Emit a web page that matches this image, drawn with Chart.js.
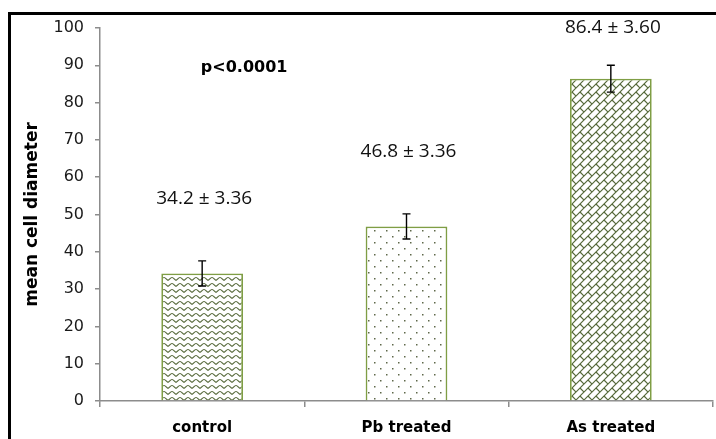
<!DOCTYPE html>
<html>
<head>
<meta charset="utf-8">
<script src="https://cdn.jsdelivr.net/npm/chart.js@4/dist/chart.umd.min.js"></script>
<style>
  html, body { margin: 0; padding: 0; background: #fff; overflow: hidden; }
  #frame { position: absolute; left: 8px; top: 12px; width: 900px; height: 600px;
           border-left: 3px solid #000; border-top: 3px solid #000; }
  #wrap { position: absolute; left: 0; top: 0; width: 716px; height: 439px; }
</style>
</head>
<body>
<div id="frame"></div>
<div id="wrap"><canvas id="cellChart" width="716" height="439"></canvas></div>
<script>
    "use strict";

    // Chart data
    var categories = ['control', 'Pb treated', 'As treated'];
    var meanValues = [34.2, 46.8, 86.4];
    var errorValues = [3.36, 3.36, 3.60];
    var valueLabels = ['34.2 ± 3.36', '46.8 ± 3.36', '86.4 ± 3.60'];
    var yTicks = [0, 10, 20, 30, 40, 50, 60, 70, 80, 90, 100];
    var pValueText = 'p<0.0001';

    var barEdge = '#7f9e45';
    var hatch = '#56693a';

    // Build fill patterns like the Excel pattern fills
    function makePattern(kind) {
        var c = document.createElement('canvas');
        var g;
        if (kind === 'wave') {
            c.width = 8; c.height = 6;
            g = c.getContext('2d');
            g.fillStyle = '#fff'; g.fillRect(0, 0, 8, 6);
            g.strokeStyle = hatch; g.lineWidth = 1.2;
            g.beginPath();
            g.moveTo(-1, 4.5);
            g.bezierCurveTo(1.5, 4.5, 2, 1.5, 4, 1.5);
            g.bezierCurveTo(6, 1.5, 6.5, 4.5, 9, 4.5);
            g.stroke();
        } else if (kind === 'dots') {
            c.width = 12; c.height = 12;
            g = c.getContext('2d');
            g.fillStyle = '#fff'; g.fillRect(0, 0, 12, 12);
            g.fillStyle = '#5f684a';
            g.fillRect(2, 2, 1.5, 1.5);
            g.fillRect(8, 8, 1.5, 1.5);
        } else {
            c.width = 8; c.height = 8;
            g = c.getContext('2d');
            g.fillStyle = '#fff'; g.fillRect(0, 0, 8, 8);
            g.strokeStyle = hatch; g.lineWidth = 1.2;
            g.beginPath();
            g.moveTo(-2, 10); g.lineTo(10, -2);
            g.moveTo(-2, 2); g.lineTo(2, -2);
            g.moveTo(6, 10); g.lineTo(10, 6);
            g.moveTo(4, 4); g.lineTo(8, 8);
            g.stroke();
        }
        return document.getElementById('cellChart').getContext('2d').createPattern(c, 'repeat');
    }

    // Error bars, value labels and p value
    var annotatePlugin = {
        id: 'annotate',
        afterDatasetsDraw: function (chart) {
            var ctx = chart.ctx;
            var yScale = chart.scales.y;
            var xScale = chart.scales.x;
            var meta = chart.getDatasetMeta(0);
            ctx.save();
            ctx.strokeStyle = '#000';
            ctx.lineWidth = 1.4;
            meta.data.forEach(function (bar, i) {
                var yHi = yScale.getPixelForValue(meanValues[i] + errorValues[i]);
                var yLo = yScale.getPixelForValue(meanValues[i] - errorValues[i]);
                ctx.beginPath();
                ctx.moveTo(bar.x, yHi); ctx.lineTo(bar.x, yLo);
                ctx.moveTo(bar.x - 4, yHi); ctx.lineTo(bar.x + 4, yHi);
                ctx.moveTo(bar.x - 4, yLo); ctx.lineTo(bar.x + 4, yLo);
                ctx.stroke();
            });
            ctx.fillStyle = '#111';
            ctx.font = '19px "Open Sans"';
            ctx.textAlign = 'center';
            ctx.textBaseline = 'middle';
            meta.data.forEach(function (bar, i) {
                var v = Math.min(meanValues[i] + 20, 100);
                ctx.fillText(valueLabels[i], bar.x + 2, yScale.getPixelForValue(v));
            });
            ctx.fillStyle = '#000';
            ctx.font = 'bold 16px "DejaVu Sans"';
            ctx.fillText(pValueText, xScale.getPixelForValue(0) + 42, yScale.getPixelForValue(89.2));
            ctx.restore();
        }
    };

    var ctx = document.getElementById('cellChart').getContext('2d');
    var cellChart = new Chart(ctx, {
        type: 'bar',
        data: {
            labels: categories,
            datasets: [{
                data: meanValues,
                backgroundColor: [makePattern('wave'), makePattern('dots'), makePattern('brick')],
                borderColor: barEdge,
                borderWidth: 1.8,
                categoryPercentage: 1,
                barPercentage: 0.4
            }]
        },
        options: {
            responsive: false,
            animation: false,
            layout: { padding: { left: 0, top: 28, right: 3, bottom: 0 } },
            plugins: {
                legend: { display: false },
                tooltip: { enabled: false }
            },
            scales: {
                x: {
                    afterFit: function (scale) { scale.height = 38; },
                    border: { color: '#8c8c8c', width: 1.5 },
                    grid: { offset: true, drawOnChartArea: false, tickLength: 6, color: '#8c8c8c', lineWidth: 1.5 },
                    ticks: {
                        padding: 12,
                        maxRotation: 0,
                        color: '#000',
                        font: { family: 'DejaVu Sans', weight: 'bold', size: 15 }
                    }
                },
                y: {
                    min: 0,
                    max: 100,
                    afterFit: function (scale) { scale.width = 100; },
                    afterBuildTicks: function (scale) {
                        scale.ticks = yTicks.map(function (v) { return { value: v }; });
                    },
                    border: { color: '#8c8c8c', width: 1.5 },
                    grid: { drawOnChartArea: false, tickLength: 5, color: '#8c8c8c', lineWidth: 1.5 },
                    ticks: {
                        padding: 11,
                        color: '#1a1a1a',
                        font: { family: 'DejaVu Sans', size: 16 }
                    },
                    title: {
                        display: true,
                        text: 'mean cell diameter',
                        color: '#000',
                        padding: { top: 22, bottom: 0 },
                        font: { family: 'DejaVu Sans', weight: 'bold', size: 17 }
                    }
                }
            }
        },
        plugins: [annotatePlugin]
    });
</script>
</body>
</html>
